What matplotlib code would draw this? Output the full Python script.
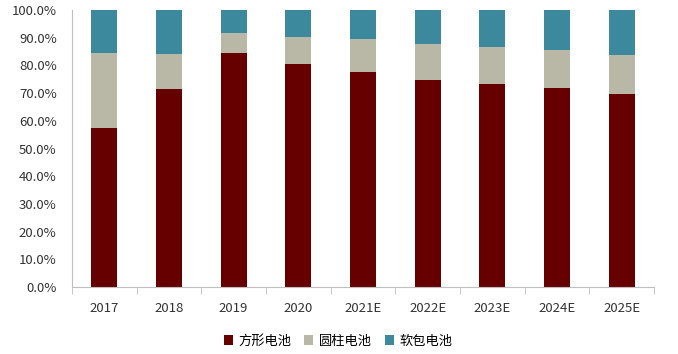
import matplotlib.pyplot as plt
import numpy as np
from matplotlib.ticker import PercentFormatter, FixedLocator

plt.rcParams['font.family'] = ['Noto Sans CJK SC', 'DejaVu Sans']

years = ['2017', '2018', '2019', '2020', '2021E', '2022E', '2023E', '2024E', '2025E']
square = [57.4, 71.6, 84.5, 80.6, 77.7, 74.7, 73.3, 71.8, 69.7]
cylinder = [27.1, 12.5, 7.3, 9.7, 12.0, 13.0, 13.3, 13.9, 14.1]
pouch = [100 - a - b for a, b in zip(square, cylinder)]

labels = ['方形电池', '圆柱电池', '软包电池']
colors = ['#660000', '#B9B8A6', '#3C889C']

fig = plt.figure(figsize=(6.78, 3.54), dpi=100)
ax = fig.add_axes([72/678, 1 - 287/354, 582/678, 277/354])

x = np.arange(len(years))
w = 0.4
ax.bar(x, square, w, color=colors[0], label=labels[0])
ax.bar(x, cylinder, w, bottom=square, color=colors[1], label=labels[1])
ax.bar(x, pouch, w, bottom=np.add(square, cylinder), color=colors[2], label=labels[2])

ax.set_xlim(-0.5, len(years) - 0.5)
ax.set_ylim(0, 100)
ax.yaxis.set_major_locator(FixedLocator(np.arange(0, 101, 10)))
ax.yaxis.set_major_formatter(PercentFormatter(decimals=1))
ax.set_xticks(x)
ax.set_xticklabels(years)
ax.set_xticks(np.arange(-0.5, len(years), 1), minor=True)
ax.tick_params(axis='x', which='major', length=0, pad=11, labelsize=9.5, colors='#333333')
ax.tick_params(axis='x', which='minor', length=5, color='#BFBFBF')
ax.tick_params(axis='y', length=0, pad=11, labelsize=9.5, colors='#333333')

for s in ['top', 'right']:
    ax.spines[s].set_visible(False)
for s in ['left', 'bottom']:
    ax.spines[s].set_color('#BFBFBF')

ax.legend(loc='center', bbox_to_anchor=(0.457, -0.195), ncol=3, frameon=False,
          fontsize=9.5, handlelength=0.7, handleheight=0.7, handletextpad=0.4,
          columnspacing=1.0)

fig.savefig('out.png', dpi=100)
